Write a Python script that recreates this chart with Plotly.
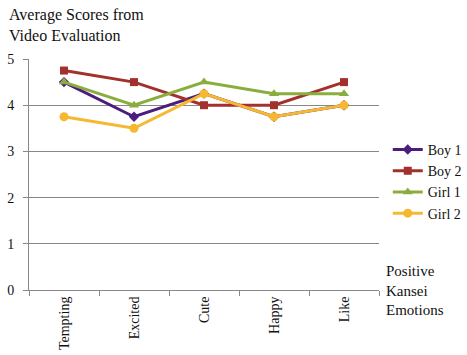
import plotly.graph_objects as go

categories = ["Tempting", "Excited", "Cute", "Happy", "Like"]
boy1 = [4.5, 3.75, 4.25, 3.75, 4.0]
boy2 = [4.75, 4.5, 4.0, 4.0, 4.5]
girl1 = [4.5, 4.0, 4.5, 4.25, 4.25]
girl2 = [3.75, 3.5, 4.25, 3.75, 4.0]

series = [
    ("Boy 1", boy1, "#4B1E7E", "diamond", 8),
    ("Boy 2", boy2, "#A3302C", "square", 8),
    ("Girl 1", girl1, "#8AAE3E", "triangle-up", 9),
    ("Girl 2", girl2, "#F6B830", "circle", 9),
]

font = "Liberation Serif"
fig = go.Figure()
for name, vals, col, sym, sz in series:
    fig.add_trace(go.Scatter(
        x=categories, y=vals, name=name, mode="lines+markers",
        line=dict(color=col, width=3),
        marker=dict(symbol=sym, size=sz, color=col),
    ))

fig.update_layout(
    width=467, height=355,
    margin=dict(l=29, r=88, t=59, b=65, autoexpand=False),
    paper_bgcolor="white", plot_bgcolor="white",
    font=dict(family=font, size=14, color="#111"),
    showlegend=True,
    legend=dict(x=1.025, y=0.47, xanchor="left", yanchor="middle",
                font=dict(family=font, size=14), itemwidth=30,
                tracegroupgap=6, bgcolor="rgba(0,0,0,0)"),
    xaxis=dict(
        type="category", tickangle=-90, showgrid=False, automargin=False,
        showline=True, linecolor="#888", linewidth=1,
        ticks="outside", tickson="boundaries", ticklen=5, tickcolor="#888",
        tickfont=dict(family=font, size=14),
        range=[-0.5, 4.5],
    ),
    yaxis=dict(
        range=[0, 5], dtick=1, showgrid=True, gridcolor="#888", gridwidth=1,
        showline=True, linecolor="#888", linewidth=1, automargin=False,
        ticks="outside", ticklen=5, tickcolor="#888", ticklabelstandoff=6,
        tickfont=dict(family=font, size=14), zeroline=False,
    ),
)
fig.add_annotation(text="Average Scores from<br>Video Evaluation",
                   xref="paper", yref="paper", x=-22/350, y=1 + 55/231,
                   xanchor="left", yanchor="top", align="left", showarrow=False,
                   font=dict(family=font, size=16, color="#111"))
fig.add_annotation(text="Positive<br>Kansei<br>Emotions",
                   xref="paper", yref="paper", x=1 + 5/350, y=0.125,
                   xanchor="left", yanchor="top", align="left", showarrow=False,
                   font=dict(family=font, size=15, color="#111"))

fig.write_html("out.html")
